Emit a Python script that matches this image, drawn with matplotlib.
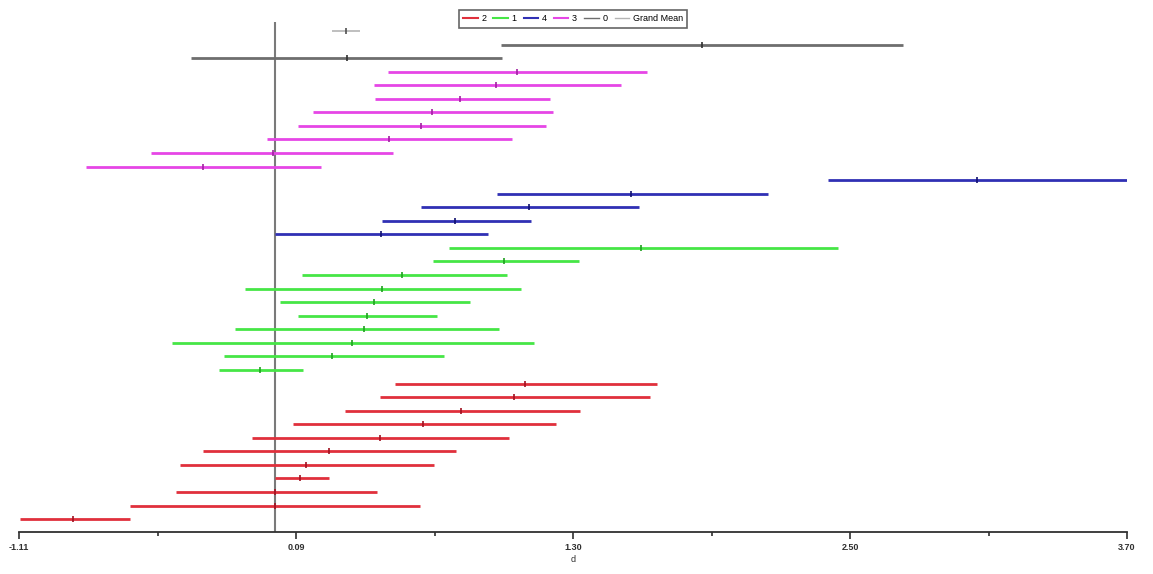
import matplotlib

matplotlib.use("Agg")
import matplotlib.pyplot as plt  # noqa: E402
import numpy as np  # noqa: E402
from matplotlib.lines import Line2D  # noqa: E402
from matplotlib.ticker import FixedLocator  # noqa: E402

# effect size d, lower / centre / upper per study, listed top to bottom
grand_mean = (0.249, 0.310, 0.370)

group_names = ["0", "3", "4", "1", "2"]

lo_0 = [0.982, -0.363]
d_0 = [1.857, 0.314]
hi_0 = [2.728, 0.987]

lo_3 = [0.494, 0.432, 0.435, 0.166, 0.100, -0.035, -0.536, -0.819]
d_3 = [1.050, 0.962, 0.806, 0.682, 0.634, 0.495, -0.008, -0.312]
hi_3 = [1.615, 1.503, 1.194, 1.210, 1.177, 1.030, 0.515, 0.203]

lo_4 = [2.402, 0.963, 0.635, 0.466, 0.000]
d_4 = [3.047, 1.547, 1.104, 0.781, 0.461]
hi_4 = [3.700, 2.142, 1.580, 1.111, 0.927]

lo_1 = [0.755, 0.688, 0.117, -0.129, 0.025, 0.103, -0.174, -0.445, -0.220, -0.242]
d_1 = [1.592, 0.997, 0.552, 0.466, 0.432, 0.402, 0.386, 0.336, 0.250, -0.063]
hi_1 = [2.447, 1.321, 1.008, 1.068, 0.848, 0.706, 0.973, 1.125, 0.735, 0.125]

lo_2 = [0.522, 0.459, 0.305, 0.081, -0.098, -0.311, -0.411, 0.000, -0.427, -0.626, -1.106]
d_2 = [1.085, 1.040, 0.810, 0.643, 0.455, 0.236, 0.135, 0.112, 0.000, 0.000, -0.876]
hi_2 = [1.660, 1.628, 1.327, 1.220, 1.017, 0.788, 0.692, 0.236, 0.445, 0.629, -0.630]

x_min, x_max = -1.11, 3.70
x_ticks = np.linspace(x_min, x_max, 5)
x_tick_labels = ["-1.11", "0.09", "1.30", "2.50", "3.70"]

legend_order = ["2", "1", "4", "3", "0", "Grand Mean"]

colors = {
    "0": "#6e6e6e",
    "3": "#e646e6",
    "4": "#3030b4",
    "1": "#46e646",
    "2": "#e0303c",
    "Grand Mean": "#b4b4b4",
}
marker_colors = {
    "0": "#303030",
    "3": "#a020a0",
    "4": "#101070",
    "1": "#20a020",
    "2": "#a01020",
    "Grand Mean": "#505050",
}

groups = {
    "0": (lo_0, d_0, hi_0),
    "3": (lo_3, d_3, hi_3),
    "4": (lo_4, d_4, hi_4),
    "1": (lo_1, d_1, hi_1),
    "2": (lo_2, d_2, hi_2),
}

fig = plt.figure(figsize=(11.53, 5.74), dpi=100)
ax = fig.add_axes([19 / 1153, 1 - 532 / 574, (1127 - 19) / 1153, (532 - 22) / 574])

# grand mean on the first row
ax.hlines(0, grand_mean[0], grand_mean[2], color=colors["Grand Mean"], lw=1.2)
ax.plot(grand_mean[1], 0, marker="|", ms=4, color=marker_colors["Grand Mean"], mew=1.2)

row = 1
for name in group_names:
    lo, d, hi = groups[name]
    ys = np.arange(row, row + len(d))
    ax.hlines(ys, lo, hi, color=colors[name], lw=2)
    ax.plot(d, ys, ls="none", marker="|", ms=5, mew=1.2, color=marker_colors[name])
    row += len(d)

ax.axvline(0, color="#7a7a7a", lw=1.5, zorder=0)

ax.set_xlim(x_min, x_max)
ax.set_ylim(row - 1 + 0.95, -0.66)
ax.set_yticks([])
for side in ["left", "right", "top"]:
    ax.spines[side].set_visible(False)
ax.spines["bottom"].set_linewidth(1.3)
ax.spines["bottom"].set_color("#303030")

ax.set_xticks(x_ticks)
ax.set_xticklabels(x_tick_labels, fontsize=6.5, family="Liberation Sans", fontweight="bold", color="#303030")
ax.xaxis.set_minor_locator(FixedLocator((x_ticks[:-1] + x_ticks[1:]) / 2))
ax.tick_params(axis="x", which="major", length=5, width=1.2, pad=3, color="#303030")
ax.tick_params(axis="x", which="minor", length=3, width=1.2, color="#303030")
ax.set_xlabel("d", fontsize=6.5, family="Liberation Sans", labelpad=2, color="#303030")

handles = [Line2D([0], [0], color=colors[n], lw=1.5 if n in groups and n != "0" else 1.0) for n in legend_order]
leg = fig.legend(
    handles,
    legend_order,
    loc="upper center",
    bbox_to_anchor=(573 / 1153, 1 - 5 / 574),
    ncol=6,
    fontsize=6.5,
    prop={"family": "Liberation Sans", "size": 6.5},
    frameon=True,
    fancybox=False,
    handlelength=1.6,
    handletextpad=0.4,
    columnspacing=0.8,
    borderpad=0.5,
)
leg.get_frame().set_edgecolor("#404040")
leg.get_frame().set_linewidth(1.2)

fig.savefig("out.png", dpi=100)
